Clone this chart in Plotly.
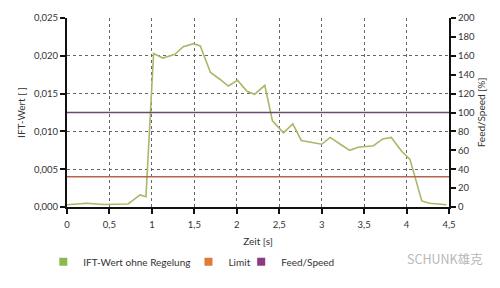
import plotly.graph_objects as go

# ---- data ----
zeit = [0, 0.23, 0.43, 0.72, 0.78, 0.86, 0.93, 1.02, 1.13, 1.27, 1.37, 1.49, 1.57,
        1.69, 1.80, 1.90, 2.01, 2.12, 2.21, 2.33, 2.42, 2.55, 2.66, 2.76, 3.00,
        3.10, 3.22, 3.33, 3.43, 3.61, 3.72, 3.82, 3.94, 4.04, 4.18, 4.27, 4.47]
ift_wert = [0.00030, 0.00050, 0.00034, 0.00040, 0.00090, 0.00160, 0.00135, 0.0203,
            0.0197, 0.0202, 0.0212, 0.0216, 0.0213, 0.0178, 0.0169, 0.0160, 0.01675,
            0.0153, 0.0149, 0.0161, 0.0114, 0.0098, 0.0110, 0.0088, 0.0083, 0.0092,
            0.0083, 0.0075, 0.0079, 0.0081, 0.0090, 0.0092, 0.0074, 0.0063, 0.0008,
            0.0005, 0.0003]
limit_x = [0, 4.5]
limit_y = [0.004, 0.004]
feed_x = [0, 4.5]
feed_y = [100, 100]

x_ticks = [0, 0.5, 1, 1.5, 2, 2.5, 3, 3.5, 4, 4.5]
x_ticktext = ["0", "0,5", "1", "1,5", "2", "2,5", "3", "3,5", "4", "4,5"]
y_ticks = [0, 0.005, 0.010, 0.015, 0.020, 0.025]
y_ticktext = ["0,000", "0,005", "0,010", "0,015", "0,020", "0,025"]
y2_ticks = [0, 20, 40, 60, 80, 100, 120, 140, 160, 180, 200]

legend_names = ["IFT-Wert ohne Regelung", "Limit", "Feed/Speed"]
legend_colors = ["#8cb84e", "#e07b39", "#8c3a84"]
legend_ids = ["legend", "legend2", "legend3"]
legend_x = [-0.062, 0.318, 0.456]

FONT = "Lato"
TXT = "#333333"

fig = go.Figure()
fig.add_trace(go.Scatter(x=zeit, y=ift_wert, mode="lines",
                         line=dict(color="#a9b868", width=1.6), showlegend=False))
fig.add_trace(go.Scatter(x=limit_x, y=limit_y, mode="lines",
                         line=dict(color="#b5654f", width=1.6), showlegend=False))
fig.add_trace(go.Scatter(x=feed_x, y=feed_y, mode="lines", yaxis="y2",
                         line=dict(color="#6b4a6b", width=1.6), showlegend=False))
for name, col, lid in zip(legend_names, legend_colors, legend_ids):
    fig.add_trace(go.Scatter(x=[None], y=[None], mode="markers", name=name, legend=lid,
                             showlegend=True,
                             marker=dict(symbol="square", size=8, color=col)))

axis_common = dict(showline=True, linecolor="#111111", linewidth=2,
                   ticks="outside", tickcolor="#111111", ticklen=5, tickwidth=2,
                   tickfont=dict(family=FONT, size=9.5, color=TXT), zeroline=False)

leg_common = dict(orientation="h", xanchor="left", y=-0.29, yanchor="middle",
                  font=dict(family=FONT, size=10, color=TXT), itemwidth=30,
                  bgcolor="rgba(0,0,0,0)")

fig.update_layout(
    width=500, height=288,
    margin=dict(l=67, r=51, t=16, b=76),
    paper_bgcolor="white", plot_bgcolor="white",
    xaxis=dict(range=[0, 4.5], tickvals=x_ticks, ticktext=x_ticktext,
               showgrid=True, gridcolor="#666666", griddash="dot", gridwidth=1,
               ticklabelstandoff=3,
               title=dict(text="Zeit [s]", font=dict(family=FONT, size=10, color=TXT), standoff=9),
               **axis_common),
    yaxis=dict(range=[0, 0.025], tickvals=y_ticks, ticktext=y_ticktext,
               showgrid=True, gridcolor="#666666", griddash="dot", gridwidth=1,
               title=dict(text="IFT-Wert [ ]", font=dict(family=FONT, size=10, color=TXT), standoff=6),
               **axis_common),
    yaxis2=dict(range=[0, 200], tickvals=y2_ticks, overlaying="y", side="right",
                showgrid=False,
                title=dict(text="Feed/Speed [%]", font=dict(family=FONT, size=10, color=TXT), standoff=4),
                **axis_common),
    showlegend=True,
    legend=dict(x=legend_x[0], **leg_common),
    legend2=dict(x=legend_x[1], **leg_common),
    legend3=dict(x=legend_x[2], **leg_common),
    annotations=[dict(text="SCHUNK雄克", xref="paper", yref="paper", x=1.095, y=-0.27,
                      xanchor="right", yanchor="middle", showarrow=False,
                      font=dict(family="Noto Sans CJK SC", size=12.5, color="#b8b8b8"))],
)

fig.write_html("out.html")
